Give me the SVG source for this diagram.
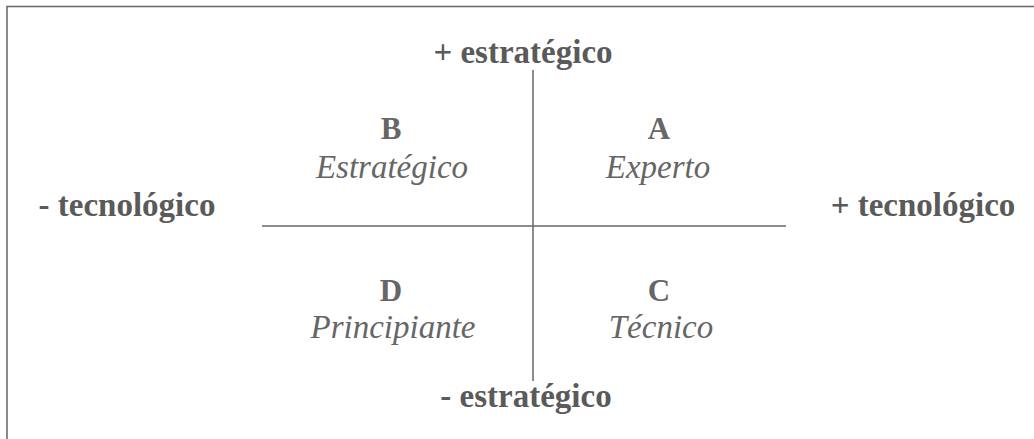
<svg xmlns="http://www.w3.org/2000/svg" width="1034" height="439" viewBox="0 0 1034 439">
<style>
.ax{font-family:"Liberation Serif","Times New Roman",serif;font-weight:bold;font-size:33px;fill:#5a5a5a;text-anchor:middle}
.q{font-family:"Liberation Serif","Times New Roman",serif;font-weight:bold;font-size:31px;fill:#666;text-anchor:middle}
.n{font-family:"Liberation Serif","Times New Roman",serif;font-style:italic;font-size:33px;fill:#666;text-anchor:middle}
.ln{stroke:#666;stroke-width:1.5;fill:none}
</style>
<rect width="1034" height="439" fill="#fff"/>
<path class="ln" d="M7,439 V6.5 H1034" stroke-width="2.5" stroke="#777"/>
<g id="connectors">
<line class="ln" x1="533" y1="70" x2="533" y2="381"/>
<line class="ln" x1="262" y1="226" x2="786" y2="226"/>
</g>
<g id="axis-top"><text class="ax" x="523" y="63">+ estratégico</text></g>
<g id="axis-bottom"><text class="ax" x="526" y="407">- estratégico</text></g>
<g id="axis-left"><text class="ax" x="127" y="216">- tecnológico</text></g>
<g id="axis-right"><text class="ax" x="923" y="216">+ tecnológico</text></g>
<g id="quad-B"><text class="q" x="391" y="139">B</text><text class="n" x="392" y="178">Estratégico</text></g>
<g id="quad-A"><text class="q" x="659" y="139">A</text><text class="n" x="658" y="178">Experto</text></g>
<g id="quad-D"><text class="q" x="391" y="301">D</text><text class="n" x="393" y="338">Principiante</text></g>
<g id="quad-C"><text class="q" x="659" y="301">C</text><text class="n" x="661" y="338">Técnico</text></g>
</svg>
